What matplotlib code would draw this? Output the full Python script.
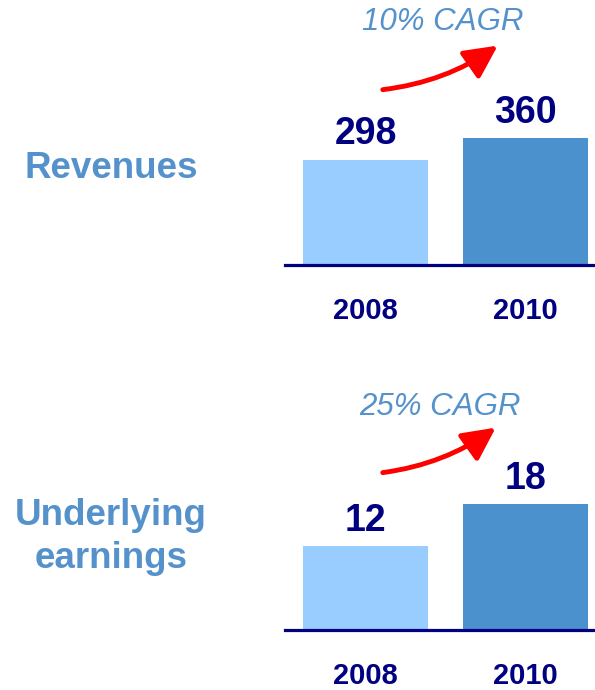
import matplotlib
matplotlib.use("Agg")
import matplotlib.pyplot as plt

years = ["2008", "2010"]
revenues = [298, 360]
earnings = [12, 18]
panel_names = ["Revenues", "Underlying\nearnings"]
cagr_labels = ["10% CAGR", "25% CAGR"]

LIGHT = "#99ccff"
DARK = "#4b91cd"
NAVY = "#000080"
LABEL_BLUE = "#5592cc"

plt.rcParams['font.family'] = ['Liberation Sans', 'DejaVu Sans']

W, H = 595, 690
fig = plt.figure(figsize=(W / 100, H / 100), dpi=100)


def px_axes(left, top, right, bottom):
    # image pixel box -> figure fraction axes
    return fig.add_axes([left / W, 1 - bottom / H, (right - left) / W, (bottom - top) / H])


def panel(base_y, values, ymax, name, name_y, cagr, cagr_xy, arrow_tail, arrow_tip):
    ax = px_axes(285, base_y - 265, 595, base_y)
    ax.bar([0, 1], values, width=0.78, color=[LIGHT, DARK], zorder=2)
    ax.set_xlim(-0.503, 1.434)
    ax.set_ylim(0, ymax)
    for s in ["top", "right", "left"]:
        ax.spines[s].set_visible(False)
    ax.spines["bottom"].set_color(NAVY)
    ax.spines["bottom"].set_linewidth(2.3)
    ax.set_yticks([])
    ax.set_xticks([])
    for i, v in enumerate(values):
        ax.annotate(str(v), (i, v), xytext=(0, 11), textcoords="offset points",
                    ha="center", va="baseline", fontsize=27, fontweight="bold", color=NAVY)
        ax.annotate(years[i], (i, 0), xytext=(0, -39), textcoords="offset points",
                    ha="center", va="baseline", fontsize=21, fontweight="bold", color=NAVY)

    fig.text(111 / W, 1 - name_y / H, name, ha="center", va="center",
             fontsize=26.5, fontweight="bold", color=LABEL_BLUE, linespacing=1.3)
    fig.text(cagr_xy[0] / W, 1 - cagr_xy[1] / H, cagr, ha="center", va="center",
             fontsize=22.5, style="italic", color=LABEL_BLUE)
    fig.add_artist(plt.matplotlib.patches.FancyArrowPatch(
        (arrow_tail[0] / W, 1 - arrow_tail[1] / H), (arrow_tip[0] / W, 1 - arrow_tip[1] / H),
        transform=fig.transFigure, connectionstyle="arc3,rad=0.13",
        arrowstyle="-|>,head_length=1.0,head_width=0.5", color="#ff0000",
        lw=3.5, mutation_scale=20))


panel(265, revenues, 750, panel_names[0], 168, cagr_labels[0], (443, 22), (380, 90), (500, 44))
panel(630, earnings, 37.9, panel_names[1], 537, cagr_labels[1], (440, 407), (380, 473), (498, 426))

fig.savefig("out.png", dpi=100)
